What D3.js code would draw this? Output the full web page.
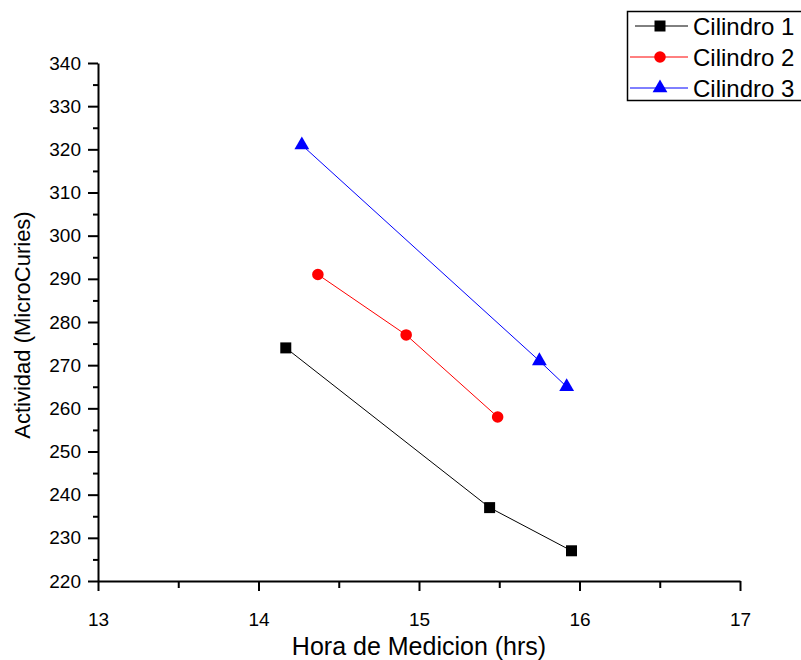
<!DOCTYPE html>
<html>
<head>
<meta charset="utf-8">
<script src="https://cdn.jsdelivr.net/npm/d3@7"></script>
<style>
  html, body { margin: 0; padding: 0; background: #fff; }
  svg { display: block; }
  text { font-family: "Liberation Sans", Arial, sans-serif; fill: #000; }
</style>
</head>
<body>
<svg id="chart" width="801" height="660"></svg>
<script>
const seriesNames = ["Cilindro 1", "Cilindro 2", "Cilindro 3"];
const seriesColors = ["#000000", "#ff0000", "#0000ff"];
const seriesShapes = ["square", "circle", "triangle"];
const hours1 = [14.17, 15.44, 15.95];
const values1 = [274, 237, 227];
const hours2 = [14.37, 14.92, 15.49];
const values2 = [291, 277, 258];
const hours3 = [14.27, 15.75, 15.92];
const values3 = [321, 271, 265];
const xTicks = [13, 14, 15, 16, 17];
const xMinorTicks = [13.5, 14.5, 15.5, 16.5];
const yTicks = [220, 230, 240, 250, 260, 270, 280, 290, 300, 310, 320, 330, 340];
const yMinorTicks = [225, 235, 245, 255, 265, 275, 285, 295, 305, 315, 325, 335];
const xTitle = "Hora de Medicion (hrs)";
const yTitle = "Actividad (MicroCuries)";

const series = [
  { name: seriesNames[0], xs: hours1, ys: values1, color: seriesColors[0], shape: seriesShapes[0] },
  { name: seriesNames[1], xs: hours2, ys: values2, color: seriesColors[1], shape: seriesShapes[1] },
  { name: seriesNames[2], xs: hours3, ys: values3, color: seriesColors[2], shape: seriesShapes[2] }
];

const svg = d3.select("#chart");
const x = d3.scaleLinear().domain([13, 17]).range([98, 740]);
const y = d3.scaleLinear().domain([220, 340]).range([581, 63]);

const symbolFor = s => s === "square" ? d3.symbolSquare : s === "circle" ? d3.symbolCircle : d3.symbolTriangle;
const sizeFor = s => s === "square" ? 121 : s === "circle" ? 105 : 95;

// minor ticks
svg.append("g").attr("transform", "translate(0,581)")
  .call(d3.axisBottom(x).tickValues(xMinorTicks).tickSize(7).tickFormat(""))
  .call(g => g.select(".domain").remove())
  .call(g => g.selectAll("line").attr("stroke-width", 2));
svg.append("g").attr("transform", "translate(98,0)")
  .call(d3.axisLeft(y).tickValues(yMinorTicks).tickSize(5).tickFormat(""))
  .call(g => g.select(".domain").remove())
  .call(g => g.selectAll("line").attr("stroke-width", 2));

// major axes
const xAxis = svg.append("g").attr("transform", "translate(0,581)")
  .call(d3.axisBottom(x).tickValues(xTicks).tickSize(10).tickSizeOuter(0).tickPadding(22).tickFormat(d3.format("d")));
xAxis.select(".domain").attr("stroke-width", 2);
xAxis.selectAll("line").attr("stroke-width", 2);
xAxis.selectAll("text").attr("font-size", 19).attr("font-family", "Liberation Sans, Arial, sans-serif").attr("fill", "#000");

const yAxis = svg.append("g").attr("transform", "translate(98,0)")
  .call(d3.axisLeft(y).tickValues(yTicks).tickSize(10).tickSizeOuter(0).tickPadding(7).tickFormat(d3.format("d")));
yAxis.select(".domain").attr("stroke-width", 2);
yAxis.selectAll("line").attr("stroke-width", 2);
yAxis.selectAll("text").attr("font-size", 19).attr("font-family", "Liberation Sans, Arial, sans-serif").attr("fill", "#000");

// titles
svg.append("text").attr("x", 419).attr("y", 655).attr("text-anchor", "middle")
  .attr("font-size", 25).text(xTitle);
svg.append("text").attr("transform", "translate(30,325) rotate(-90)").attr("text-anchor", "middle")
  .attr("font-size", 22).text(yTitle);

// lines and markers
const line = d3.line().x(d => x(d[0])).y(d => y(d[1]));
series.forEach(s => {
  const pts = s.xs.map((v, i) => [v, s.ys[i]]);
  svg.append("path").datum(pts).attr("d", line)
    .attr("fill", "none").attr("stroke", s.color).attr("stroke-width", 1);
  svg.selectAll(null).data(pts).enter().append("path")
    .attr("d", d3.symbol().type(symbolFor(s.shape)).size(sizeFor(s.shape)))
    .attr("transform", d => `translate(${x(d[0])},${y(d[1])})`)
    .attr("fill", s.color);
});

// legend
const lg = svg.append("g");
lg.append("rect").attr("x", 627.5).attr("y", 11.5).attr("width", 200).attr("height", 89)
  .attr("fill", "#fff").attr("stroke", "#000").attr("stroke-width", 1.5);
series.forEach((s, i) => {
  const cy = 26 + i * 31;
  lg.append("line").attr("x1", i === 0 ? 635 : 630).attr("x2", 688).attr("y1", cy).attr("y2", cy)
    .attr("stroke", s.color).attr("stroke-width", 1);
  lg.append("path").attr("d", d3.symbol().type(symbolFor(s.shape)).size(sizeFor(s.shape)))
    .attr("transform", `translate(660,${cy})`).attr("fill", s.color);
  lg.append("text").attr("x", 693).attr("y", cy + 9).attr("font-size", 24).text(s.name);
});
</script>
</body>
</html>
